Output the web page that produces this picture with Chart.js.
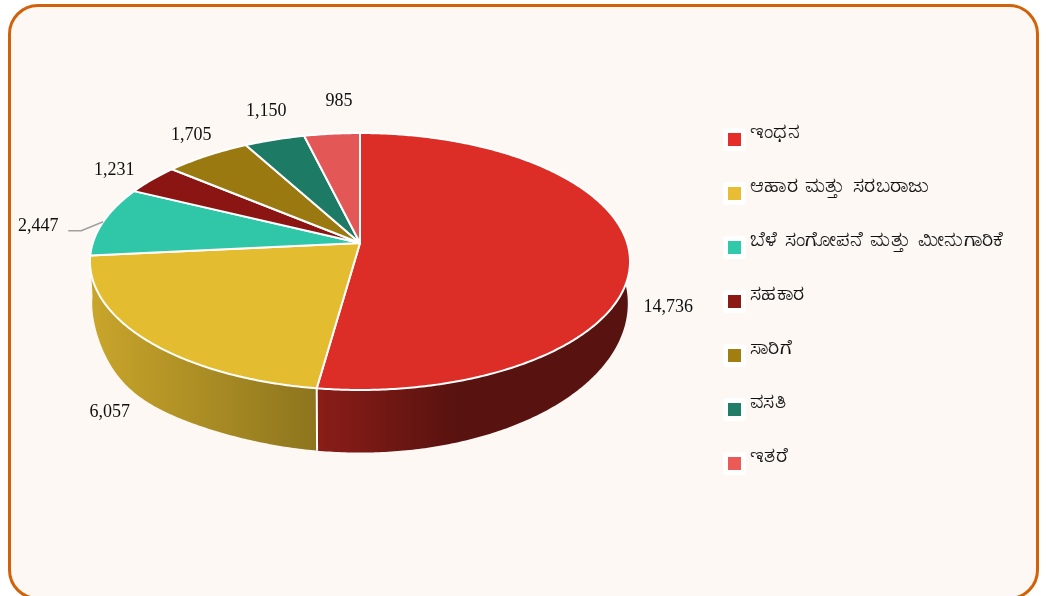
<!DOCTYPE html>
<html lang="kn">
<head>
<meta charset="utf-8">
<title>Pie</title>
<script src="https://cdn.jsdelivr.net/npm/chart.js@4"></script>
<style>
html,body{margin:0;padding:0;width:1054px;height:596px;overflow:hidden;background:#fff;}
#card{position:absolute;left:7.5px;top:3.5px;width:1031.5px;height:596.5px;box-sizing:border-box;border:3.4px solid #d2620a;border-radius:30px;background:#fdf8f4;}
#c{position:absolute;left:0;top:0;}
#legend{position:absolute;left:723px;top:128px;margin:0;padding:0;list-style:none;font-family:"Liberation Serif","Noto Sans",serif;color:#111;}
#legend li{position:relative;height:54px;}
#legend i{position:absolute;left:0;top:0;width:13px;height:13px;border:5px solid #fff;border-radius:3px;background-clip:padding-box;}
#legend span{position:absolute;left:27px;top:-8px;font-size:21px;line-height:22px;white-space:nowrap;letter-spacing:0.35px;word-spacing:1.5px;-webkit-text-stroke:0.2px #111;}
</style>
</head>
<body>
<div id="card"></div>
<canvas id="c" width="1054" height="596"></canvas>
<ul id="legend"></ul>
<script>
const categories = ["ಇಂಧನ","ಆಹಾರ ಮತ್ತು ಸರಬರಾಜು","ಬೆಳೆ ಸಂಗೋಪನೆ ಮತ್ತು ಮೀನುಗಾರಿಕೆ","ಸಹಕಾರ","ಸಾರಿಗೆ","ವಸತಿ","ಇತರೆ"];
const values = [14736,6057,2447,1231,1705,1150,985];
const sliceColors = ["#dc2e26","#e4bc30","#2fc7a8","#8a1512","#9a7a10","#1c7a65","#e35757"];
const legendColors = ["#e52e2a","#e9bd33","#30c9a9","#8c1a14","#a07e10","#1f7d68","#ec5a58"];

const TILT = {g:0.144, capA:125.8, lowA:146, lowR:265, lowDy:39};
const labelOffsets = [[39,56],[-37,72],[-65,4],[-39,-9],[-21,-19],[-14,-28],[4.5,-32]];
const sideShades = [[0.63,0.4,0.45],[0.88,0.62,1]];
// perspective calibration, degrees clockwise from 12 o'clock -> angular correction
const warpTable = [[0,0],[187.38,0.6],[264.4,0],[295.52,0.48],[311.17,-1.37],[332.85,-1.65],[347.47,-1.27],[360,0]];

function shade(hex,f){const n=parseInt(hex.slice(1),16);
  return `rgb(${Math.round((n>>16&255)*f)},${Math.round((n>>8&255)*f)},${Math.round((n&255)*f)})`;}
function warp(a){
  let t=((a+Math.PI/2)*180/Math.PI)%360; if(t<0)t+=360;
  for(let i=1;i<warpTable.length;i++){
    const p=warpTable[i-1],q=warpTable[i];
    if(t<=q[0]) return a+(p[1]+(q[1]-p[1])*(t-p[0])/(q[0]-p[0]))*Math.PI/180;
  }
  return a;
}
function cap(el,a){const s=Math.sin(a),c=Math.cos(a),d=1-TILT.g*s;
  return [el.x+el.outerRadius*c/d, el.y+TILT.capA*s/d];}
function rim(el,a){return cap(el,warp(a));}
function low(el,a0){const a=warp(a0),s=Math.sin(a),c=Math.cos(a),d=1-TILT.g*s;
  const b=(c<0&&s>0.2)?Math.sin(Math.PI*(s-0.2)/0.8):0;
  return [el.x+TILT.lowR*c/d, el.y+TILT.lowDy+TILT.lowA*s/d+9*b*b];}
function samples(a0,a1){const n=Math.max(2,Math.ceil((a1-a0)/0.01)),o=[];
  for(let i=0;i<=n;i++)o.push(a0+(a1-a0)*i/n);return o;}

const pie3d = {
  id:'pie3d',
  beforeDatasetDraw(chart){
    const ctx=chart.ctx, arcs=chart.getDatasetMeta(0).data;
    ctx.save();
    ctx.lineJoin='round';
    // side walls of slices that face the viewer
    arcs.forEach((el,i)=>{
      if(Math.sin((el.startAngle+el.endAngle)/2)<=0)return;
      const a0=Math.max(el.startAngle,0), a1=Math.min(el.endAngle,Math.PI);
      const as=samples(a0,a1);
      const pts=as.map(a=>rim(el,a)).concat(as.map(a=>low(el,a)).reverse());
      const xs=pts.map(p=>p[0]), x0=Math.min(...xs), x1=Math.max(...xs);
      const sh=sideShades[i]||[0.8,0.8,1];
      const g=ctx.createLinearGradient(x0,0,x1,0);
      g.addColorStop(0,shade(sliceColors[i],sh[0]));
      g.addColorStop(sh[2],shade(sliceColors[i],sh[1]));
      if(sh[2]<1)g.addColorStop(1,shade(sliceColors[i],sh[1]));
      ctx.beginPath();pts.forEach((p,k)=>k?ctx.lineTo(p[0],p[1]):ctx.moveTo(p[0],p[1]));ctx.closePath();
      ctx.fillStyle=g;ctx.fill();
    });
    // seam between the two visible walls
    arcs.forEach((el,i)=>{
      if(Math.sin(el.endAngle)>0.5&&Math.sin((el.startAngle+el.endAngle)/2)>0){
        const pa=rim(el,el.endAngle),pb=low(el,el.endAngle);
        ctx.strokeStyle='#fff';ctx.lineWidth=2;ctx.beginPath();ctx.moveTo(pa[0],pa[1]);ctx.lineTo(pb[0],pb[1]);ctx.stroke();
      }
    });
    // top face
    arcs.forEach((el,i)=>{
      ctx.beginPath();ctx.moveTo(el.x,el.y);
      samples(el.startAngle,el.endAngle).forEach(a=>{const p=rim(el,a);ctx.lineTo(p[0],p[1]);});
      ctx.closePath();
      ctx.fillStyle=sliceColors[i];ctx.fill();
      ctx.strokeStyle='#fff';ctx.lineWidth=2;ctx.stroke();
    });
    // value labels
    ctx.font='18px "Liberation Serif"';ctx.fillStyle='#0f0f0f';ctx.textAlign='center';ctx.textBaseline='middle';
    arcs.forEach((el,i)=>{
      const p=cap(el,(el.startAngle+el.endAngle)/2),o=labelOffsets[i];
      ctx.fillText(values[i].toLocaleString('en-US'),p[0]+o[0],p[1]+o[1]);
      if(i===2){ctx.strokeStyle='#a0a0a0';ctx.lineWidth=1.5;ctx.beginPath();
        ctx.moveTo(p[0],p[1]);ctx.lineTo(p[0]-22,p[1]+9);ctx.lineTo(p[0]-35,p[1]+9);ctx.stroke();}
    });
    ctx.restore();
    return false;
  }
};

const chart = new Chart(document.getElementById('c'),{
  type:'pie',
  data:{labels:categories,datasets:[{data:values,backgroundColor:sliceColors,borderWidth:0,radius:267.2}]},
  options:{responsive:false,animation:false,
    layout:{padding:{right:334,bottom:110}},
    plugins:{legend:{display:false},tooltip:{enabled:false}}},
  plugins:[pie3d]
});
const ul=document.getElementById('legend');
categories.forEach((t,i)=>{
  const li=document.createElement('li');
  const box=document.createElement('i');box.style.backgroundColor=legendColors[i];
  const sp=document.createElement('span');sp.textContent=t;
  li.append(box,sp);ul.append(li);
});
</script>
</body>
</html>
